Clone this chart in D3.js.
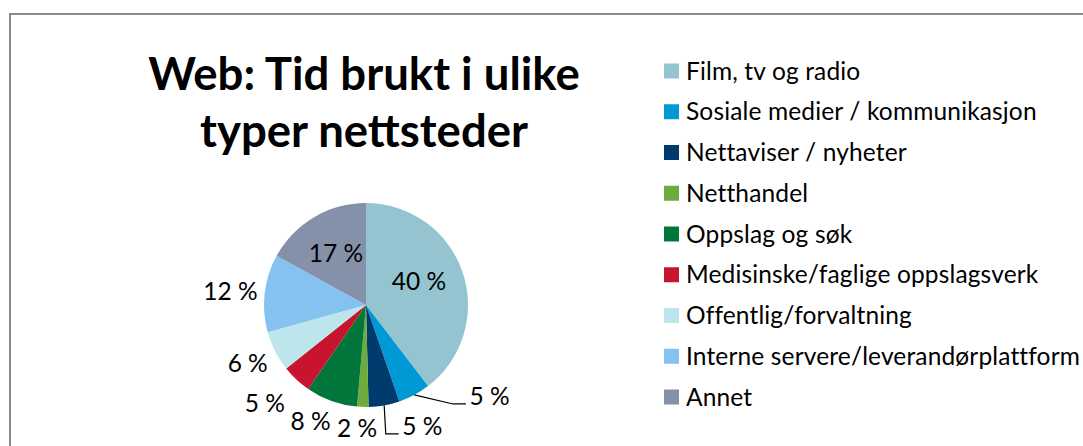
<!DOCTYPE html>
<html>
<head>
<meta charset="utf-8">
<title>Web: Tid brukt i ulike typer nettsteder</title>
<script src="https://cdn.jsdelivr.net/npm/d3@7"></script>
<style>
  body { margin: 0; background: #fff; }
  svg text { font-family: Lato, "Open Sans", sans-serif; fill: #000; }
</style>
</head>
<body>
<div id="chart"></div>
<script>
// values (share of time, %)
var categories = ["Film, tv og radio", "Sosiale medier / kommunikasjon", "Nettaviser / nyheter",
  "Netthandel", "Oppslag og søk", "Medisinske/faglige oppslagsverk", "Offentlig/forvaltning",
  "Interne servere/leverandørplattform", "Annet"];
var shares = [39.6, 5.1, 4.9, 1.8, 8.2, 4.7, 6.4, 12.3, 17.0];
var colors = ["#93c4cf", "#0099d5", "#003b6e", "#6dab3c", "#00763a", "#c8142f", "#bce5ec", "#86c2f0", "#8590a9"];
var titleLines = ["Web: Tid brukt i ulike", "typer nettsteder"];

// small shifts (px) of the data labels, like Excel's best-fit; leader = label pulled away with a connector
var labelNudge = [[-3, -4], [62, -22], [34, -1], [-5, 1], [-12, -3], [-11, 2], [0, -1], [1, 3], [0, 0]];
var leader = [false, true, true, false, false, false, false, false, false];

var width = 1083, height = 446;
var cx = 366, cy = 305, radius = 102;
var fontSize = 24.5;

var data = categories.map(function(c, i) {
  return {name: c, value: shares[i], color: colors[i], nudge: labelNudge[i], leader: leader[i]};
});

var svg = d3.select("#chart").append("svg")
    .attr("width", width)
    .attr("height", height);

// chart area frame (cut off at right and bottom)
svg.append("rect")
    .attr("x", 10).attr("y", 14)
    .attr("width", width + 20).attr("height", height + 20)
    .attr("fill", "none")
    .attr("stroke", "#8a8a8a")
    .attr("stroke-width", 2);

// title
svg.append("text")
    .attr("text-anchor", "middle")
    .attr("font-weight", "bold")
    .attr("font-size", 45.5)
  .selectAll("tspan")
    .data(titleLines)
  .enter().append("tspan")
    .attr("x", 364)
    .attr("y", function(d, i) { return 90 + i * 57; })
    .text(function(d) { return d; });

// pie
var pie = d3.pie().sort(null).value(function(d) { return d.value; });
var arc = d3.arc().innerRadius(0).outerRadius(radius);
var arcs = pie(data);

var g = svg.append("g").attr("transform", "translate(" + cx + "," + cy + ")");

g.selectAll("path.slice")
    .data(arcs)
  .enter().append("path")
    .attr("class", "slice")
    .attr("d", arc)
    .attr("fill", function(d) { return d.data.color; });

// data labels
var inner = d3.arc().innerRadius(radius * 0.58).outerRadius(radius * 0.58);

var labels = g.selectAll("text.lbl")
    .data(arcs)
  .enter().append("text")
    .attr("class", "lbl")
    .attr("font-size", fontSize)
    .attr("text-anchor", "middle")
    .text(function(d) { return Math.round(d.data.value) + " %"; });

labels.each(function(d) {
  var w = this.getComputedTextLength() / 2, h = 13;
  var mid = (d.startAngle + d.endAngle) / 2;
  var s = Math.sin(mid), c = -Math.cos(mid);
  var p;
  if (d.data.value >= 15) {
    p = inner.centroid(d);
  } else {
    var dist = radius + 7 + w * Math.abs(s) + h * Math.abs(c);
    p = [dist * s, dist * c];
  }
  p = [p[0] + d.data.nudge[0], p[1] + d.data.nudge[1]];
  var base = p[1] + 8;
  d3.select(this).attr("x", p[0]).attr("y", base);

  if (d.data.leader) {
    var left = p[0] - w;
    g.append("polyline")
        .attr("fill", "none")
        .attr("stroke", "#000")
        .attr("stroke-width", 1.2)
        .attr("points", [
          [radius * s, radius * c],
          [left - 16.5, base - 1.5],
          [left - 3.5, base - 1.5]
        ].map(function(q) { return q.join(","); }).join(" "));
  }
});

// legend
var legend = svg.append("g").attr("transform", "translate(664,71)");
var item = legend.selectAll("g")
    .data(data)
  .enter().append("g")
    .attr("transform", function(d, i) { return "translate(0," + (i * 40.75) + ")"; });

item.append("rect")
    .attr("x", 0).attr("y", -7.5)
    .attr("width", 15).attr("height", 15)
    .attr("fill", function(d) { return d.color; });

item.append("text")
    .attr("x", 22)
    .attr("y", 8.5)
    .attr("font-size", fontSize)
    .attr("letter-spacing", 0.15)
    .text(function(d) { return d.name; });
</script>
</body>
</html>
